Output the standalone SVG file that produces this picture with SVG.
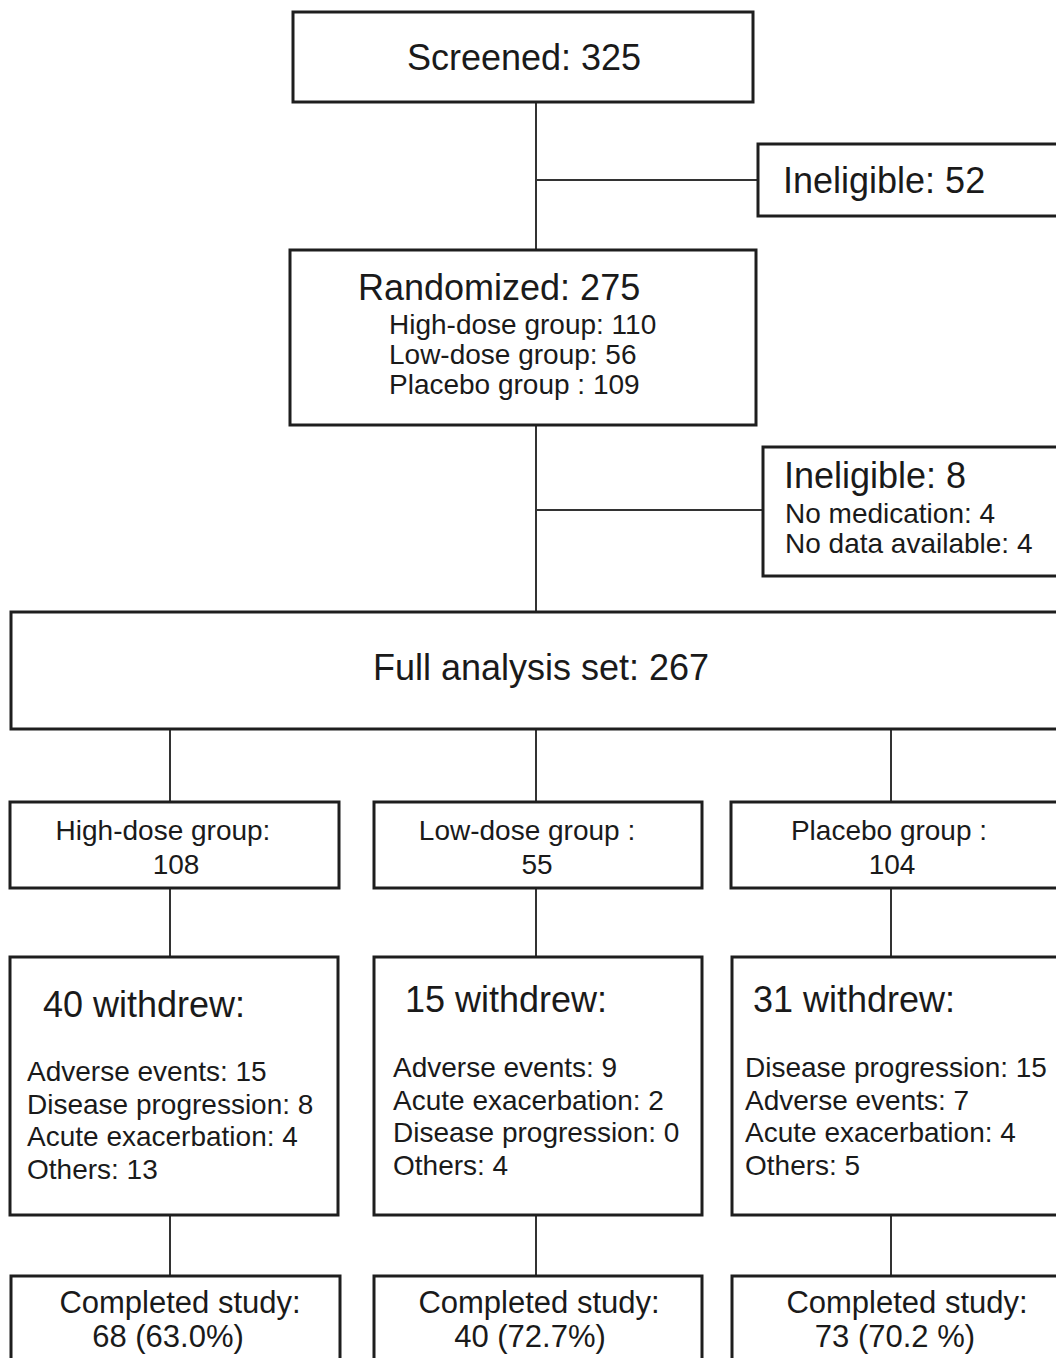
<svg xmlns="http://www.w3.org/2000/svg" width="1056" height="1358" viewBox="0 0 1056 1358">
<style>
.box{fill:#fff;stroke:#1e1e1e;stroke-width:3}
.conn{stroke:#333;stroke-width:2;fill:none}
text{font-family:"Liberation Sans",Arial,sans-serif;fill:#1a1a1a}
.big{font-size:36px}
.mid{font-size:28px}
.cs{font-size:31px}
.c{text-anchor:middle}
</style>
<rect width="1056" height="1358" fill="#fff"/>
<g id="connectors">
<line class="conn" x1="536" y1="102" x2="536" y2="250"/>
<line class="conn" x1="536" y1="180" x2="758" y2="180"/>
<line class="conn" x1="536" y1="425" x2="536" y2="612"/>
<line class="conn" x1="536" y1="510" x2="763" y2="510"/>
<line class="conn" x1="170" y1="729" x2="170" y2="802"/>
<line class="conn" x1="536" y1="729" x2="536" y2="802"/>
<line class="conn" x1="891" y1="729" x2="891" y2="802"/>
<line class="conn" x1="170" y1="888" x2="170" y2="957"/>
<line class="conn" x1="536" y1="888" x2="536" y2="957"/>
<line class="conn" x1="891" y1="888" x2="891" y2="957"/>
<line class="conn" x1="170" y1="1215" x2="170" y2="1276"/>
<line class="conn" x1="536" y1="1215" x2="536" y2="1276"/>
<line class="conn" x1="891" y1="1215" x2="891" y2="1276"/>
</g>
<g id="screened">
<rect class="box" x="293" y="12" width="460" height="90"/>
<text class="big c" x="524" y="70">Screened: 325</text>
</g>
<g id="ineligible52">
<rect class="box" x="758" y="144" width="320" height="72"/>
<text class="big" x="783" y="193">Ineligible: 52</text>
</g>
<g id="randomized">
<rect class="box" x="290" y="250" width="466" height="175"/>
<text class="big" x="358" y="300">Randomized: 275</text>
<text class="mid" x="389" y="334">High-dose group: 110</text>
<text class="mid" x="389" y="364">Low-dose group: 56</text>
<text class="mid" x="389" y="394">Placebo group : 109</text>
</g>
<g id="ineligible8">
<rect class="box" x="763" y="447" width="320" height="129"/>
<text class="big" x="784" y="488">Ineligible: 8</text>
<text class="mid" x="785" y="523">No medication: 4</text>
<text class="mid" x="785" y="553">No data available: 4</text>
</g>
<g id="fas">
<rect class="box" x="11" y="612" width="1070" height="117"/>
<text class="big c" x="541" y="680">Full analysis set: 267</text>
</g>
<g id="high">
<rect class="box" x="10" y="802" width="329" height="86"/>
<text class="mid c" x="163" y="840">High-dose group:</text>
<text class="mid c" x="176" y="874">108</text>
</g>
<g id="low">
<rect class="box" x="374" y="802" width="328" height="86"/>
<text class="mid c" x="527" y="840">Low-dose group :</text>
<text class="mid c" x="537" y="874">55</text>
</g>
<g id="placebo">
<rect class="box" x="731" y="802" width="340" height="86"/>
<text class="mid c" x="889" y="840">Placebo group :</text>
<text class="mid c" x="892" y="874">104</text>
</g>
<g id="withdrew-high">
<rect class="box" x="10" y="957" width="328" height="258"/>
<text class="big" x="43" y="1017">40 withdrew:</text>
<text class="mid" x="27" y="1081">Adverse events: 15</text>
<text class="mid" x="27" y="1114">Disease progression: 8</text>
<text class="mid" x="27" y="1146">Acute exacerbation: 4</text>
<text class="mid" x="27" y="1179">Others: 13</text>
</g>
<g id="withdrew-low">
<rect class="box" x="374" y="957" width="328" height="258"/>
<text class="big" x="405" y="1012">15 withdrew:</text>
<text class="mid" x="393" y="1077">Adverse events: 9</text>
<text class="mid" x="393" y="1110">Acute exacerbation: 2</text>
<text class="mid" x="393" y="1142">Disease progression: 0</text>
<text class="mid" x="393" y="1175">Others: 4</text>
</g>
<g id="withdrew-placebo">
<rect class="box" x="732" y="957" width="340" height="258"/>
<text class="big" x="753" y="1012">31 withdrew:</text>
<text class="mid" x="745" y="1077">Disease progression: 15</text>
<text class="mid" x="745" y="1110">Adverse events: 7</text>
<text class="mid" x="745" y="1142">Acute exacerbation: 4</text>
<text class="mid" x="745" y="1175">Others: 5</text>
</g>
<g id="completed-high">
<rect class="box" x="11" y="1276" width="329" height="100"/>
<text class="cs c" x="180" y="1313">Completed study:</text>
<text class="cs c" x="168" y="1347">68 (63.0%)</text>
</g>
<g id="completed-low">
<rect class="box" x="374" y="1276" width="328" height="100"/>
<text class="cs c" x="539" y="1313">Completed study:</text>
<text class="cs c" x="530" y="1347">40 (72.7%)</text>
</g>
<g id="completed-placebo">
<rect class="box" x="732" y="1276" width="340" height="100"/>
<text class="cs c" x="907" y="1313">Completed study:</text>
<text class="cs c" x="895" y="1347">73 (70.2 %)</text>
</g>
</svg>
